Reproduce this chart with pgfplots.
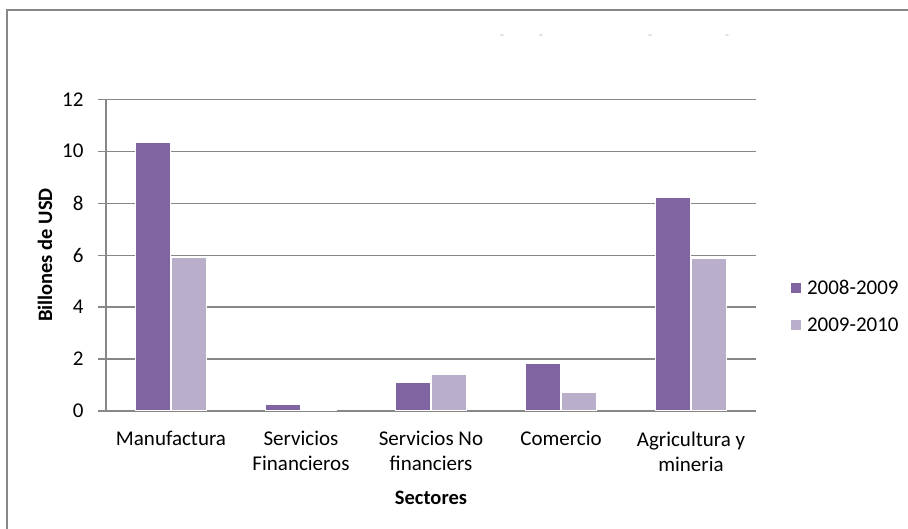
\documentclass[border=0pt]{standalone}
\usepackage{pgfplots}
\pgfplotsset{compat=1.18}
\usepackage{fontspec}
\setmainfont{Carlito}
\definecolor{darkp}{HTML}{8064A2}
\definecolor{lightp}{HTML}{B9AFCB}
\definecolor{gridg}{HTML}{878787}
\begin{document}
\begin{tikzpicture}[x=1pt,y=1pt]
\useasboundingbox (0,0) rectangle (908,529);
\fill[white] (0,0) rectangle (908,529);
\draw[gridg, line width=2pt] (7,-5) -- (7,519) -- (915,519);
\foreach \x in {502,541,650,727} \node[gray!45, font=\fontsize{14}{14}\selectfont] at (\x,492) {-};
\begin{axis}[
  at={(106pt,118pt)}, anchor=south west,
  scale only axis, width=650pt, height=311.7pt,
  xmin=-0.5, xmax=4.5, ymin=0, ymax=12,
  ybar=1pt, bar width=35pt,
  axis lines*=left,
  axis line style={gridg, line width=1.2pt},
  ymajorgrids, grid style={gridg, line width=1.2pt},
  ytick={0,2,4,6,8,10,12}, xtick={0,1,2,3,4},
  xticklabels={Manufactura, Servicios\\Financieros, Servicios No\\financiers, Comercio, Agricultura y\\mineria},
  xticklabel style={align=center, yshift=-9pt, font=\fontsize{21}{25}\selectfont},
  yticklabel style={xshift=-11pt, font=\fontsize{21}{25}\selectfont},
  x tick style={draw=none},
  y tick style={gridg, line width=1.2pt},
  tick align=outside, major tick length=8pt,
  ticklabel style={text=black},
  /pgf/number format/assume math mode=true,
  ylabel={Billones de USD}, xlabel={Sectores},
  label style={font=\bfseries\fontsize{20.5}{25}\selectfont},
  xlabel style={yshift=-13pt},
  ylabel style={yshift=3pt},
  legend style={draw=none, fill=none, at={(1.052,0.335)}, anchor=west,
    inner sep=0pt, row sep=20pt, column sep=4pt,
    font=\fontsize{21}{25}\selectfont, nodes={inner sep=1pt}},
  legend cell align=left,
  legend image code/.code={\fill[#1] (0pt,-5.5pt) rectangle (11pt,5.5pt);},
]
\addplot[fill=darkp, draw=white, line width=1pt] coordinates {(0,10.33) (1,0.25) (2,1.10) (3,1.81) (4,8.23)};
\addplot[fill=lightp, draw=white, line width=1pt] coordinates {(0,5.91) (1,0.03) (2,1.42) (3,0.70) (4,5.86)};
\legend{2008-2009, 2009-2010}
\end{axis}
\end{tikzpicture}
\end{document}
